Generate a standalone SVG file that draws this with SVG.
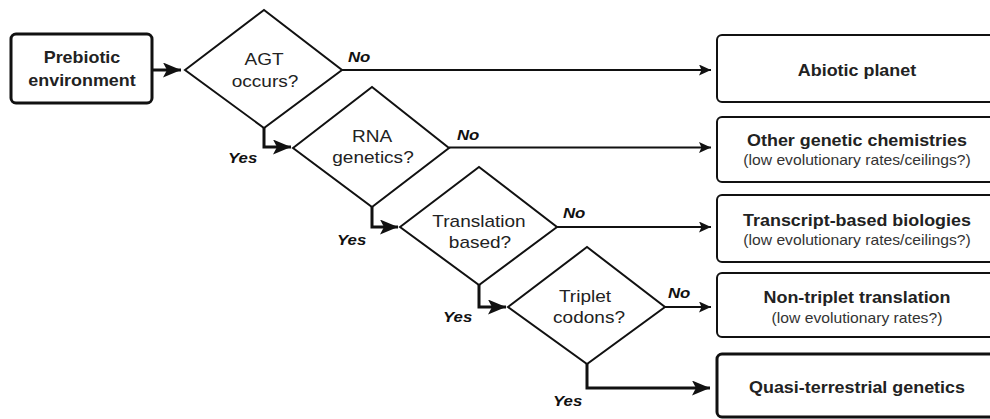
<svg xmlns="http://www.w3.org/2000/svg" width="990" height="419" viewBox="0 0 990 419">
<defs>
<style>
.bg{fill:#fff}
.dia{fill:#fff;stroke:#111;stroke-width:2;stroke-linejoin:miter}
.box{fill:#fff;stroke:#111;stroke-width:2}
.tbox{fill:#fff;stroke:#111;stroke-width:3}
.t{font-family:"Liberation Sans",Arial,sans-serif;fill:#222;text-anchor:middle}
.title{font-size:16px;font-weight:bold}
.q{font-size:17px}
.sub{font-size:14px;fill:#333}
.lab{font-family:"Liberation Sans",Arial,sans-serif;font-size:15px;font-weight:bold;font-style:italic;fill:#111}
.thin{fill:none;stroke:#111;stroke-width:2;marker-end:url(#ah)}
.thick{fill:none;stroke:#111;stroke-width:3;marker-end:url(#AH)}
</style>
<marker id="ah" markerUnits="userSpaceOnUse" markerWidth="14" markerHeight="12" refX="12" refY="5.5" orient="auto">
<path d="M0,0 L12,5.5 L0,11 L2.5,5.5 z" fill="#111"/>
</marker>
<marker id="AH" markerUnits="userSpaceOnUse" markerWidth="20" markerHeight="16" refX="18" refY="7.5" orient="auto">
<path d="M0,0 L18,7.5 L0,15 L4,7.5 z" fill="#111"/>
</marker>
</defs>
<rect class="bg" x="0" y="0" width="990" height="419"/>

<g id="connectors">
<path class="thick" d="M152,70 H181"/>
<path class="thin" d="M342,70 H711"/>
<path class="thick" d="M264,128 V147 H291"/>
<path class="thin" d="M449,147.5 H711"/>
<path class="thick" d="M372,207 V227 H398"/>
<path class="thin" d="M557,227 H711"/>
<path class="thick" d="M479,285 V307 H506"/>
<path class="thin" d="M665,307 H711"/>
<path class="thick" d="M587,364 V388 H710"/>
<text class="lab" x="348" y="62" transform="translate(348 0) scale(1.12 1) translate(-348 0)">No</text>
<text class="lab" x="457" y="140" transform="translate(457 0) scale(1.12 1) translate(-457 0)">No</text>
<text class="lab" x="563" y="218" transform="translate(563 0) scale(1.12 1) translate(-563 0)">No</text>
<text class="lab" x="668" y="298" transform="translate(668 0) scale(1.12 1) translate(-668 0)">No</text>
<text class="lab" x="228" y="163" transform="translate(228 0) scale(1.12 1) translate(-228 0)">Yes</text>
<text class="lab" x="337" y="245" transform="translate(337 0) scale(1.12 1) translate(-337 0)">Yes</text>
<text class="lab" x="443" y="322" transform="translate(443 0) scale(1.12 1) translate(-443 0)">Yes</text>
<text class="lab" x="553" y="406" transform="translate(553 0) scale(1.12 1) translate(-553 0)">Yes</text>
</g>

<g id="prebiotic">
<rect class="tbox" x="11" y="34" width="141" height="69" rx="5"/>
<text class="t title" transform="translate(82 63) scale(1.12 1)">Prebiotic</text>
<text class="t title" transform="translate(82 86) scale(1.12 1)">environment</text>
</g>

<g id="agt">
<path class="dia" d="M185,70 L264,10 L342,70 L264,128 Z"/>
<text class="t q" transform="translate(264 65) scale(1.12 1)">AGT</text>
<text class="t q" transform="translate(265 87) scale(1.12 1)">occurs?</text>
</g>

<g id="rna">
<path class="dia" d="M293,148 L372,87 L449,148 L372,207 Z"/>
<text class="t q" transform="translate(372 142) scale(1.12 1)">RNA</text>
<text class="t q" transform="translate(373 163) scale(1.12 1)">genetics?</text>
</g>

<g id="translation">
<path class="dia" d="M400,227 L479,167 L557,227 L479,285 Z"/>
<text class="t q" transform="translate(479 227) scale(1.12 1)">Translation</text>
<text class="t q" transform="translate(480 248) scale(1.12 1)">based?</text>
</g>

<g id="triplet">
<path class="dia" d="M508,307 L587,247 L665,307 L587,364 Z"/>
<text class="t q" transform="translate(585 302) scale(1.12 1)">Triplet</text>
<text class="t q" transform="translate(589 323) scale(1.12 1)">codons?</text>
</g>

<g id="abiotic">
<rect class="box" x="717" y="35" width="280" height="67" rx="5"/>
<text class="t title" transform="translate(857 76) scale(1.12 1)">Abiotic planet</text>
</g>

<g id="other">
<rect class="box" x="717" y="117" width="280" height="65" rx="5"/>
<text class="t title" transform="translate(857 146) scale(1.12 1)">Other genetic chemistries</text>
<text class="t sub" transform="translate(857 165) scale(1.12 1)">(low evolutionary rates/ceilings?)</text>
</g>

<g id="transcript">
<rect class="box" x="717" y="195" width="280" height="67" rx="5"/>
<text class="t title" transform="translate(857 226) scale(1.12 1)">Transcript-based biologies</text>
<text class="t sub" transform="translate(857 245) scale(1.12 1)">(low evolutionary rates/ceilings?)</text>
</g>

<g id="nontriplet">
<rect class="box" x="717" y="273" width="280" height="64" rx="5"/>
<text class="t title" transform="translate(857 303) scale(1.12 1)">Non-triplet translation</text>
<text class="t sub" transform="translate(857 323) scale(1.12 1)">(low evolutionary rates?)</text>
</g>

<g id="quasi">
<rect class="tbox" x="717" y="354" width="280" height="63" rx="5"/>
<text class="t title" transform="translate(857 393) scale(1.12 1)">Quasi-terrestrial genetics</text>
</g>
</svg>
